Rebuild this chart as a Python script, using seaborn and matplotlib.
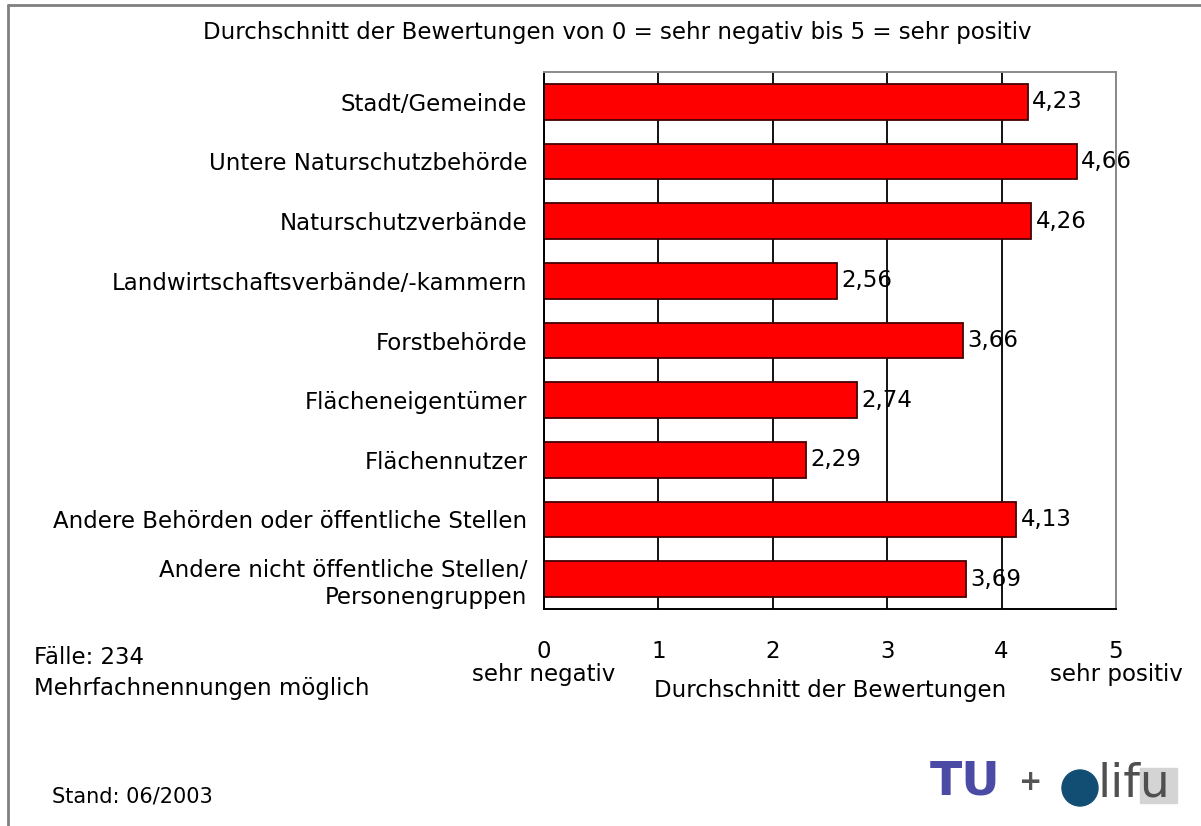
import matplotlib
matplotlib.use("Agg")
import matplotlib.pyplot as plt
from matplotlib.patches import Ellipse, Rectangle
from matplotlib.lines import Line2D
import seaborn as sns
import pandas as pd

# Bewertungen der Beteiligten (Mittelwerte 0..5)
categories = [
    "Stadt/Gemeinde",
    "Untere Naturschutzbehörde",
    "Naturschutzverbände",
    "Landwirtschaftsverbände/-kammern",
    "Forstbehörde",
    "Flächeneigentümer",
    "Flächennutzer",
    "Andere Behörden oder öffentliche Stellen",
    "Andere nicht öffentliche Stellen/\nPersonengruppen",
]
values = [4.23, 4.66, 4.26, 2.56, 3.66, 2.74, 2.29, 4.13, 3.69]
x_ticks = [0, 1, 2, 3, 4, 5]
x_ticklabels = ["0\nsehr negativ", "1", "2", "3", "4", "5\nsehr positiv"]

sns.set_theme(style="white")
plt.rcParams["font.family"] = ["DejaVu Sans"]
plt.rcParams["text.color"] = "black"
plt.rcParams["axes.labelcolor"] = "black"
plt.rcParams["xtick.color"] = "black"
plt.rcParams["ytick.color"] = "black"

FS = 16.5
W, H = 1201, 826

df = pd.DataFrame({"Gruppe": categories, "Wert": values})

fig = plt.figure(figsize=(W / 100, H / 100), dpi=100)
ax = fig.add_axes([544 / W, 1 - 609 / H, (1116 - 544) / W, (609 - 72) / H])

sns.barplot(data=df, x="Wert", y="Gruppe", orient="h", color="#ff0000",
            saturation=1, width=0.6, edgecolor="#440000", linewidth=1.3, ax=ax)

ax.set_xlim(0, 5)
ax.set_axisbelow(True)
ax.grid(axis="x", color="black", linewidth=1.3)
ax.grid(axis="y", visible=False)

ax.set_xticks(x_ticks)
ax.set_xticklabels(x_ticklabels, fontsize=FS, linespacing=1.0)
ax.tick_params(axis="x", length=0, pad=22)
ax.tick_params(axis="y", length=0, pad=12, labelsize=FS)
for lbl in ax.get_yticklabels():
    lbl.set_multialignment("right")
    lbl.set_linespacing(1.25)

ax.set_xlabel("Durchschnitt der Bewertungen", fontsize=FS)
ax.xaxis.set_label_coords(0.5, (609 - 690) / (609 - 72))
ax.xaxis.label.set_va("center")
ax.set_ylabel("")

for side in ["left", "bottom"]:
    ax.spines[side].set_color("black")
    ax.spines[side].set_linewidth(1.4)
for side in ["top", "right"]:
    ax.spines[side].set_color("#8a8a8a")
    ax.spines[side].set_linewidth(1.4)

labels = [f"{v:.2f}".replace(".", ",") for v in values]
ax.bar_label(ax.containers[0], labels=labels, padding=3, fontsize=FS)

# Titel und Hinweise
fig.text(617 / W, 1 - 33 / H,
         "Durchschnitt der Bewertungen von 0 = sehr negativ bis 5 = sehr positiv",
         ha="center", va="center", fontsize=FS)
fig.text(34 / W, 1 - 657 / H, "Fälle: 234", ha="left", va="center", fontsize=FS)
fig.text(34 / W, 1 - 688 / H, "Mehrfachnennungen möglich", ha="left", va="center", fontsize=FS)
fig.text(52 / W, 1 - 797 / H, "Stand: 06/2003", ha="left", va="center", fontsize=15)

# Rahmen links und oben
fig.add_artist(Line2D([8 / W, 8 / W], [0, 1 - 5 / H], transform=fig.transFigure,
                      color="#808080", linewidth=2))
fig.add_artist(Line2D([8 / W, 1.0], [1 - 5 / H, 1 - 5 / H], transform=fig.transFigure,
                      color="#808080", linewidth=2))

# Logos
fig.text(965 / W, 1 - 782 / H, "TU", ha="center", va="center", fontsize=34,
         fontweight="bold", color="#4b4ba6")
fig.text(1031 / W, 1 - 782 / H, "+", ha="center", va="center", fontsize=20,
         fontweight="bold", color="#555555")
fig.add_artist(Rectangle((1140 / W, 1 - 803 / H), 37 / W, 35 / H,
                         transform=fig.transFigure, color="#d4d4d4", zorder=2))
fig.add_artist(Ellipse((1080 / W, 1 - 788 / H), 36 / W, 36 / H,
                       transform=fig.transFigure, color="#124e74", zorder=3))
fig.text(1098 / W, 1 - 784 / H, "lifu", ha="left", va="center", fontsize=34,
         color="#505050", zorder=4)

fig.savefig("out.png", dpi=100, facecolor="white")
